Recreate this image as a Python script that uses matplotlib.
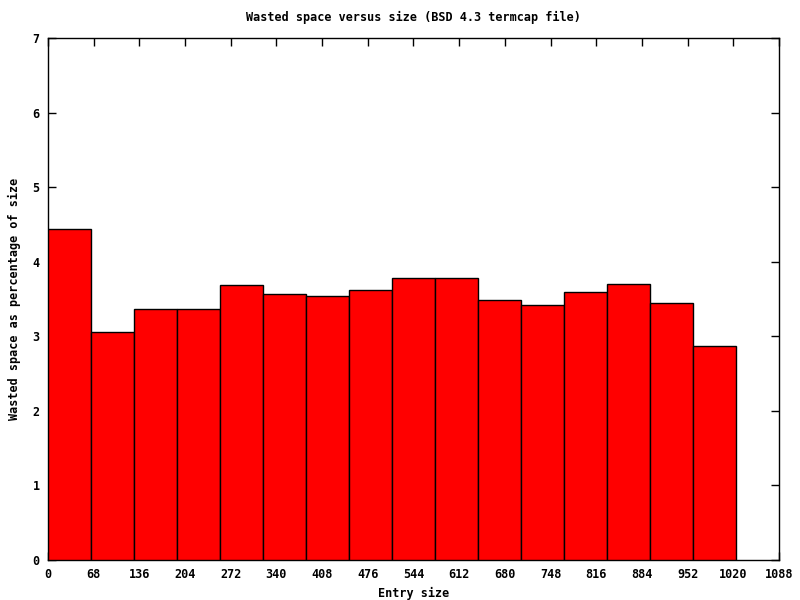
import matplotlib
matplotlib.use('Agg')
import matplotlib.pyplot as plt

# bins of 64 bytes, left edges
bin_left = [0, 64, 128, 192, 256, 320, 384, 448, 512, 576, 640, 704, 768, 832, 896, 960]
bin_width = 64
wasted = [4.44, 3.06, 3.37, 3.37, 3.69, 3.57, 3.54, 3.62, 3.78, 3.78, 3.49, 3.42, 3.59, 3.70, 3.45, 2.87]

x_ticks = list(range(0, 1089, 68))
y_ticks = list(range(0, 8))

plt.rcParams['font.family'] = ['DejaVu Sans Mono']
plt.rcParams['font.weight'] = 'bold'
plt.rcParams['font.size'] = 8.5

fig = plt.figure(figsize=(8, 6), dpi=100)
ax = fig.add_axes([48 / 800, 40 / 600, 731 / 800, 522 / 600])

ax.bar(bin_left, wasted, width=bin_width, align='edge', color='#ff0000',
       edgecolor='black', linewidth=1, zorder=3)

ax.set_xlim(0, 1088)
ax.set_ylim(0, 7)
ax.set_xticks(x_ticks)
ax.set_yticks(y_ticks)
ax.tick_params(direction='in', length=6, width=1, top=True, right=True,
               labelsize=8.5, pad=6)
for s in ax.spines.values():
    s.set_linewidth(1)

ax.set_title('Wasted space versus size (BSD 4.3 termcap file)', fontsize=8.5,
             fontweight='bold', pad=12)
ax.set_xlabel('Entry size', fontsize=8.5, fontweight='bold', labelpad=4)
ax.set_ylabel('Wasted space as percentage of size', fontsize=8.5,
              fontweight='bold', labelpad=8)

fig.savefig('out.png', dpi=100)
